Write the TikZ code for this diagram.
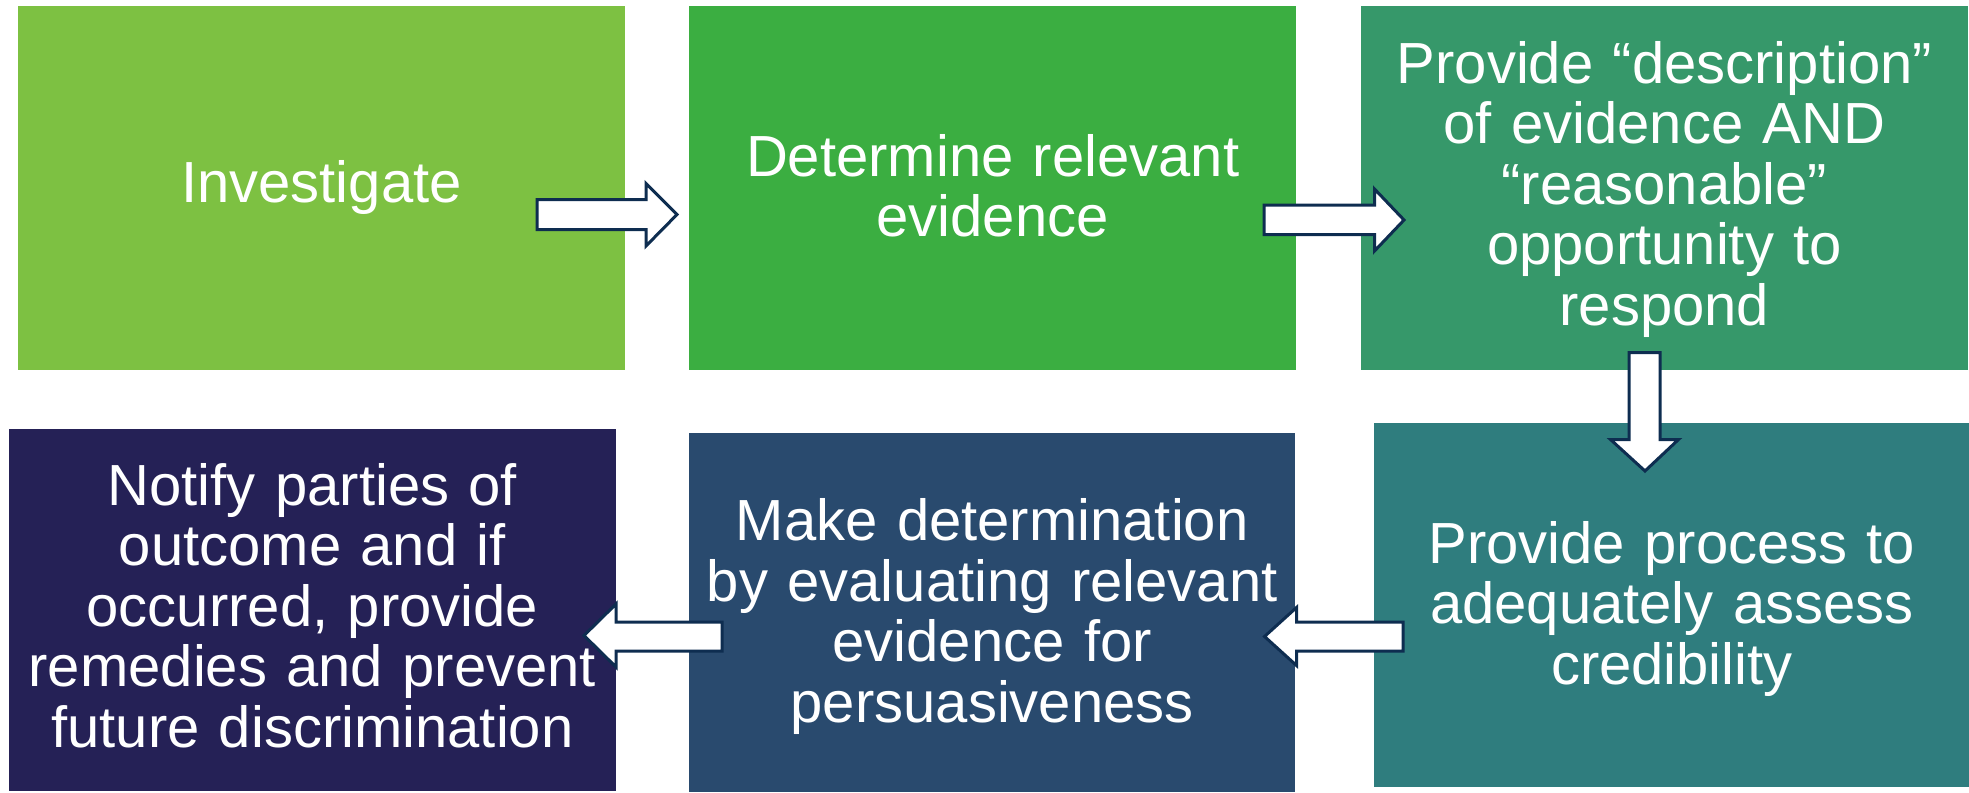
\documentclass[tikz,border=0pt]{standalone}
\usepackage{fontspec}
\usetikzlibrary{calc}
\setmainfont{Liberation Sans}
\definecolor{c1}{RGB}{125,193,66}
\definecolor{c2}{RGB}{59,174,65}
\definecolor{c3}{RGB}{54,152,106}
\definecolor{c4}{RGB}{47,125,126}
\definecolor{c5}{RGB}{41,74,110}
\definecolor{c6}{RGB}{37,33,86}
\definecolor{arrline}{RGB}{14,45,80}
\begin{document}
\begin{tikzpicture}[x=1pt,y=-1pt,
  box/.style={anchor=north west, inner sep=0pt},
  txt/.style={inner sep=0pt, text=white, align=center,
    font=\fontsize{58}{60.5}\selectfont},
  barr/.style={draw=arrline, fill=white, line width=3pt, line join=miter}]
\useasboundingbox (0,0) rectangle (1969,792);
\node[box, fill=c1, minimum width=607.5pt, minimum height=363pt] (b1) at (17.5,6.3) {};
\node[box, fill=c2, minimum width=607pt, minimum height=363pt] (b2) at (689,6.3) {};
\node[box, fill=c3, minimum width=607pt, minimum height=363pt] (b3) at (1360.7,6.3) {};
\node[box, fill=c4, minimum width=596pt, minimum height=364pt] (b4) at (1373.7,422.3) {};
\node[box, fill=c5, minimum width=606pt, minimum height=359pt] (b5) at (689,433) {};
\node[box, fill=c6, minimum width=607pt, minimum height=362pt] (b6) at (8.7,428.3) {};
\node[txt, text width=587pt] (t1) at ($(b1.center)+(0,0)$) {Investigate};
\node[txt, text width=587pt] (t2) at ($(b2.center)+(0,-2)$) {Determine relevant\\evidence};
\node[txt, text width=590pt] (t3) at ($(b3.center)+(0,1.5)$) {Provide “description”\\of evidence AND\\“reasonable”\\opportunity to\\respond};
\node[txt, text width=576pt] (t4) at ($(b4.center)+(0,4)$) {Provide process to\\adequately assess\\credibility};
\node[txt, text width=596pt] (t5) at ($(b5.center)+(0,4)$) {Make determination\\by evaluating relevant\\evidence for\\persuasiveness};
\node[txt, text width=597pt] (t6) at ($(b6.center)+(0,-4)$) {Notify parties of\\outcome and if\\occurred, provide\\remedies and prevent\\future discrimination};
% block arrows
\draw[barr] (537,199.5) -- (646,199.5) -- (646,183.5) -- (677,214.5) -- (646,246) -- (646,229.5) -- (537,229.5) -- cycle;
\draw[barr] (1264,205) -- (1374.5,205) -- (1374.5,189) -- (1404,220) -- (1374.5,251) -- (1374.5,234.5) -- (1264,234.5) -- cycle;
\draw[barr] (1629,352.5) -- (1660,352.5) -- (1660,439.5) -- (1678.5,439.5) -- (1645,471) -- (1610.5,439.5) -- (1629,439.5) -- cycle;
\draw[barr] (1403,622) -- (1296.5,622) -- (1296.5,607.5) -- (1264.5,636.5) -- (1296.5,665.5) -- (1296.5,651) -- (1403,651) -- cycle;
\draw[barr] (722,622) -- (616,622) -- (616,604) -- (584,635.5) -- (616,667) -- (616,651) -- (722,651) -- cycle;
\end{tikzpicture}
\end{document}
